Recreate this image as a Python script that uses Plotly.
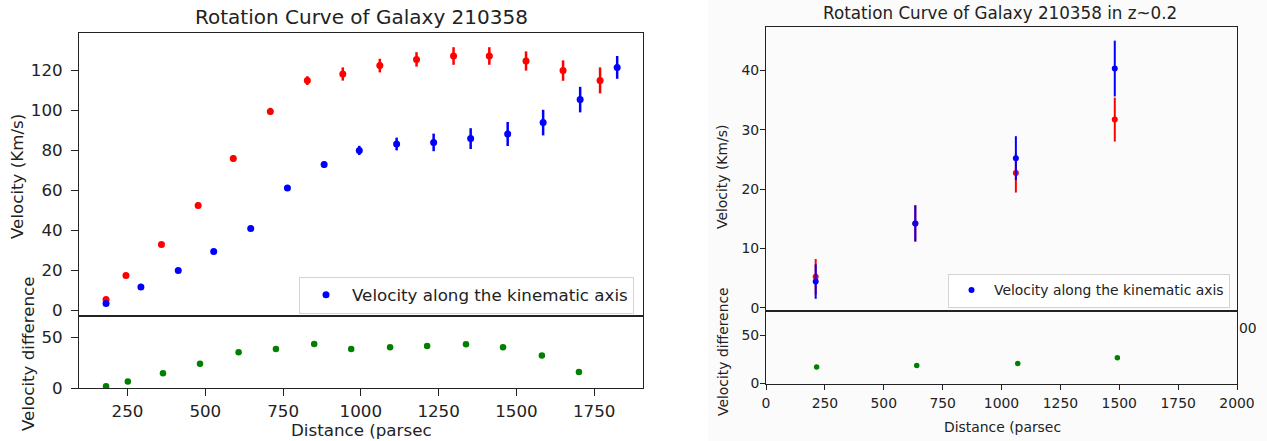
import plotly.graph_objects as go

W, H = 1267, 441
FONT = "DejaVu Sans"
INK = "#222222"

# ---------------- Left panel data ----------------
red_x = [181, 245, 359, 477, 590, 709, 828, 942, 1061, 1179, 1298, 1413, 1531, 1650, 1769]
red_v = [5.2, 17.2, 32.7, 52.2, 75.8, 99.3, 114.7, 118.0, 122.2, 125.3, 127.0, 127.0, 124.5, 119.7, 114.8]
red_err = [0.8, 1.0, 1.2, 1.4, 1.6, 1.8, 2.2, 3.3, 3.4, 3.6, 4.4, 4.4, 4.8, 5.1, 6.5]

blue_x = [181, 293, 413, 527, 646, 764, 882, 995, 1115, 1234, 1353, 1472, 1586, 1705, 1824]
blue_v = [3.3, 11.5, 19.7, 29.3, 40.8, 61.0, 72.7, 79.8, 83.0, 83.8, 85.7, 88.0, 93.7, 105.2, 121.3]
blue_err = [0.8, 0.9, 1.0, 1.1, 1.2, 1.4, 1.6, 2.3, 3.2, 4.4, 5.2, 6.0, 6.4, 6.4, 5.7]

diff_x = [181, 251, 364, 483, 607, 727, 850, 969, 1094, 1213, 1338, 1457, 1582, 1701]
diff_v = [1.7, 6.3, 14.5, 24.0, 35.2, 38.5, 43.4, 38.5, 40.2, 41.5, 43.1, 40.2, 32.0, 15.8]

# ---------------- Right panel data (z~0.2) ----------------
z_x = [211, 634, 1061, 1481]
z_red_v = [5.2, 14.2, 22.7, 31.7]
z_red_err = [3.0, 3.05, 3.3, 3.7]
z_blue_v = [4.4, 14.2, 25.2, 40.3]
z_blue_err = [2.9, 3.05, 3.7, 4.7]
z_diff_x = [215, 640, 1069, 1492]
z_diff_v = [17.2, 18.6, 20.7, 26.9]

left_main_ticks = [0, 20, 40, 60, 80, 100, 120]
left_diff_ticks = [0, 50]
left_x_ticks = [250, 500, 750, 1000, 1250, 1500, 1750]
right_main_ticks = [0, 10, 20, 30, 40]
right_diff_ticks = [0, 50]
right_x_ticks = [0, 250, 500, 750, 1000, 1250, 1500, 1750, 2000]

LEGEND_NAME = "Velocity along the kinematic axis"
FS_L, FS_LT = 16.7, 20      # left panel: text / title
FS_R, FS_RT = 13.9, 16.75   # right panel: text / title


def px_x(p):
    return p / W


def px_y(p):
    return 1 - p / H


fig = go.Figure()

# left main
fig.add_trace(go.Scatter(
    x=red_x, y=red_v, mode="markers", xaxis="x", yaxis="y",
    marker=dict(color="#ff0000", size=7),
    error_y=dict(type="data", array=red_err, color="#ff0000", thickness=2.5, width=0),
    showlegend=False, name="red side"))
fig.add_trace(go.Scatter(
    x=blue_x, y=blue_v, mode="markers", xaxis="x", yaxis="y",
    marker=dict(color="#0000ff", size=7),
    error_y=dict(type="data", array=blue_err, color="#0000ff", thickness=2.5, width=0),
    showlegend=True, legend="legend", name=LEGEND_NAME))
fig.add_trace(go.Scatter(
    x=diff_x, y=diff_v, mode="markers", xaxis="x2", yaxis="y2",
    marker=dict(color="#008000", size=6.5), showlegend=False, name="difference"))

# right main
fig.add_trace(go.Scatter(
    x=z_x, y=z_red_v, mode="markers", xaxis="x3", yaxis="y3",
    marker=dict(color="#ff0000", size=6),
    error_y=dict(type="data", array=z_red_err, color="#ff0000", thickness=2, width=0),
    showlegend=False, name="red side z"))
fig.add_trace(go.Scatter(
    x=z_x, y=z_blue_v, mode="markers", xaxis="x3", yaxis="y3",
    marker=dict(color="#0000ff", size=6),
    error_y=dict(type="data", array=z_blue_err, color="#0000ff", thickness=2, width=0),
    showlegend=True, legend="legend2", name=LEGEND_NAME))
fig.add_trace(go.Scatter(
    x=z_diff_x, y=z_diff_v, mode="markers", xaxis="x4", yaxis="y4",
    marker=dict(color="#008000", size=5.5), showlegend=False, name="difference z"))

common = dict(showline=True, linecolor=INK, linewidth=1, mirror=True, automargin=False,
              showgrid=False, zeroline=False, ticks="outside",
              tickwidth=1, tickcolor=INK, color=INK)
left_ax = dict(common, ticklen=7, tickfont=dict(size=FS_L))
right_ax = dict(common, ticklen=5, tickfont=dict(size=FS_R))

L_dom = [px_x(79), px_x(643)]
R_dom = [px_x(766), px_x(1237)]


def label(text, x, y, size, angle=0):
    return dict(text=text, xref="paper", yref="paper", x=px_x(x), y=px_y(y),
                xanchor="center", yanchor="middle", textangle=angle,
                showarrow=False, font=dict(size=size, color=INK))


fig.update_layout(
    width=W, height=H,
    margin=dict(l=0, r=0, t=0, b=0),
    paper_bgcolor="white", plot_bgcolor="white",
    font=dict(family=FONT, color=INK, size=FS_L),
    xaxis=dict(left_ax, domain=L_dom, anchor="y", range=[94, 1907],
               showticklabels=False, ticks=""),
    yaxis=dict(left_ax, domain=[px_y(316), px_y(33)], anchor="x", range=[-3, 138.5],
               tickvals=left_main_ticks, ticklabelstandoff=5),
    xaxis2=dict(left_ax, domain=L_dom, anchor="y2", range=[94, 1907],
                tickvals=left_x_ticks, ticklabelstandoff=1),
    yaxis2=dict(left_ax, domain=[px_y(388), px_y(316)], anchor="x2", range=[0, 71],
                tickvals=left_diff_ticks, ticklabelstandoff=5),
    xaxis3=dict(right_ax, domain=R_dom, anchor="y3", range=[0, 2000],
                showticklabels=False, ticks=""),
    yaxis3=dict(right_ax, domain=[px_y(311), px_y(27)], anchor="x3", range=[-0.56, 47.3],
                tickvals=right_main_ticks, ticklabelstandoff=-2),
    xaxis4=dict(right_ax, domain=R_dom, anchor="y4", range=[0, 2000],
                tickvals=right_x_ticks, ticklabelstandoff=2),
    yaxis4=dict(right_ax, domain=[px_y(383.5), px_y(311)], anchor="x4", range=[0, 75.4],
                tickvals=right_diff_ticks, ticklabelstandoff=-2),
    legend=dict(x=px_x(634), y=px_y(276.5), xanchor="right", yanchor="top",
                bgcolor="white", bordercolor="#d4d4d4", borderwidth=1,
                itemwidth=42, font=dict(size=FS_L, color=INK)),
    legend2=dict(x=px_x(1230), y=px_y(273.5), xanchor="right", yanchor="top",
                 bgcolor="white", bordercolor="#d4d4d4", borderwidth=1,
                 itemwidth=35, font=dict(size=FS_R, color=INK)),
    annotations=[
        label("Rotation Curve of Galaxy 210358", 361, 17, FS_LT),
        label("Rotation Curve of Galaxy 210358 in z~0.2", 1000, 13, FS_RT),
        label("Velocity (Km/s)", 17, 177, FS_L, -90),
        label("Velocity difference", 28, 354, FS_L, -90),
        label("Distance (parsec", 361, 430, FS_L),
        label("Velocity (Km/s)", 722, 177, FS_R, -90),
        label("Velocity difference", 723, 352, FS_R, -90),
        label("Distance (parsec", 1002, 427, FS_R),
        dict(text="00", xref="paper", yref="paper",
             x=px_x(1237), y=px_y(328), xanchor="left", yanchor="middle",
             showarrow=False, font=dict(size=FS_R, color=INK)),
    ],
    shapes=[
        dict(type="rect", xref="paper", yref="paper", x0=px_x(708), x1=1, y0=0, y1=1,
             fillcolor="#fbfbfb", line=dict(width=0), layer="below"),
    ],
)

# the page is photographed at exactly the figure size: drop the default body margin
fig.write_html("out.html", config={"displayModeBar": False},
               post_script="document.body.style.margin='0';")
